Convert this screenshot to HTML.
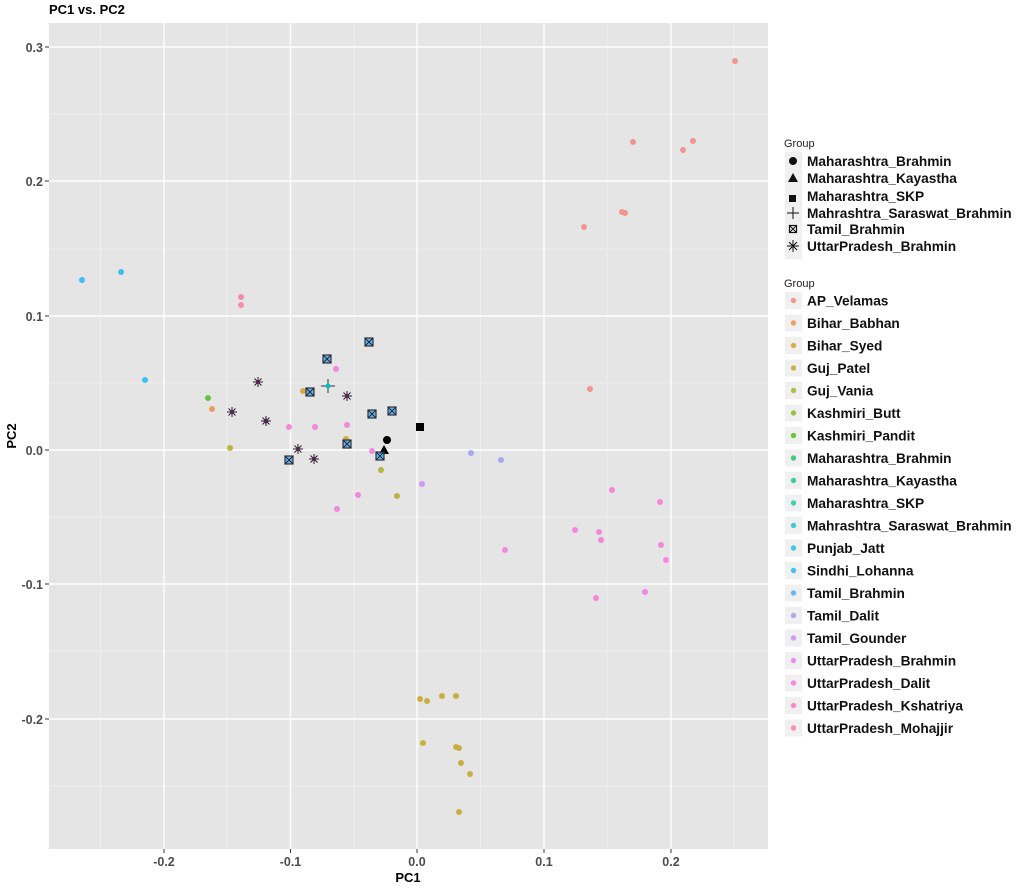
<!DOCTYPE html><html><head><meta charset="utf-8"><style>body{margin:0;background:#fff}svg{display:block;font-family:"Liberation Sans",Arial,sans-serif}</style></head><body>
<svg width="1024" height="888" viewBox="0 0 1024 888" xmlns="http://www.w3.org/2000/svg">
<rect x="0" y="0" width="1024" height="888" fill="#fff"/>
<text x="49" y="14" font-size="13" font-weight="bold">PC1 vs. PC2</text>
<rect x="49" y="23" width="719" height="826" fill="#e5e5e5"/>
<g stroke="#f2f2f2" stroke-width="0.7">
<line x1="100.6" y1="23" x2="100.6" y2="849"/><line x1="227" y1="23" x2="227" y2="849"/><line x1="354" y1="23" x2="354" y2="849"/><line x1="480.5" y1="23" x2="480.5" y2="849"/><line x1="607" y1="23" x2="607" y2="849"/><line x1="734" y1="23" x2="734" y2="849"/>
<line x1="49" y1="114" x2="768" y2="114"/><line x1="49" y1="249" x2="768" y2="249"/><line x1="49" y1="383" x2="768" y2="383"/><line x1="49" y1="517" x2="768" y2="517"/><line x1="49" y1="651" x2="768" y2="651"/><line x1="49" y1="786" x2="768" y2="786"/>
</g>
<g stroke="#fff" stroke-width="1.4">
<line x1="164" y1="23" x2="164" y2="849"/><line x1="290.5" y1="23" x2="290.5" y2="849"/><line x1="417" y1="23" x2="417" y2="849"/><line x1="544" y1="23" x2="544" y2="849"/><line x1="671" y1="23" x2="671" y2="849"/>
<line x1="49" y1="47" x2="768" y2="47"/><line x1="49" y1="181" x2="768" y2="181"/><line x1="49" y1="316" x2="768" y2="316"/><line x1="49" y1="450" x2="768" y2="450"/><line x1="49" y1="584" x2="768" y2="584"/><line x1="49" y1="719" x2="768" y2="719"/>
</g>
<g stroke="#333" stroke-width="1">
<line x1="164" y1="849" x2="164" y2="853"/><line x1="290.5" y1="849" x2="290.5" y2="853"/><line x1="417" y1="849" x2="417" y2="853"/><line x1="544" y1="849" x2="544" y2="853"/><line x1="671" y1="849" x2="671" y2="853"/>
<line x1="45" y1="47" x2="49" y2="47"/><line x1="45" y1="181" x2="49" y2="181"/><line x1="45" y1="316" x2="49" y2="316"/><line x1="45" y1="450" x2="49" y2="450"/><line x1="45" y1="584" x2="49" y2="584"/><line x1="45" y1="719" x2="49" y2="719"/>
</g>
<g font-size="12.5" font-weight="bold" fill="#4d4d4d" text-anchor="middle">
<text x="164" y="866">-0.2</text><text x="290.5" y="866">-0.1</text><text x="417" y="866">0.0</text><text x="544" y="866">0.1</text><text x="671" y="866">0.2</text>
</g>
<g font-size="12.5" font-weight="bold" fill="#4d4d4d" text-anchor="end">
<text x="43" y="52">0.3</text><text x="43" y="186">0.2</text><text x="43" y="321">0.1</text><text x="43" y="455">0.0</text><text x="43" y="589">-0.1</text><text x="43" y="724">-0.2</text>
</g>
<text x="408" y="882" font-size="13" font-weight="bold" text-anchor="middle">PC1</text>
<text x="16" y="436" font-size="13" font-weight="bold" text-anchor="middle" transform="rotate(-90 16 436)">PC2</text>
<g opacity="0.72">
<g fill="#F8766D"><circle cx="735" cy="61" r="3"/><circle cx="693" cy="141" r="3"/><circle cx="683" cy="150" r="3"/><circle cx="633" cy="142" r="3"/><circle cx="622" cy="212" r="3"/><circle cx="625" cy="213" r="3"/><circle cx="584" cy="227" r="3"/><circle cx="590" cy="389" r="3"/></g>
<g fill="#EA8331"><circle cx="212" cy="409" r="3"/></g>
<g fill="#D89000"><circle cx="303" cy="391" r="3"/><circle cx="346" cy="439" r="3"/></g>
<g fill="#C09B00"><circle cx="420" cy="699" r="3"/><circle cx="427" cy="701" r="3"/><circle cx="442" cy="696" r="3"/><circle cx="456" cy="696" r="3"/><circle cx="423" cy="743" r="3"/><circle cx="456" cy="747" r="3"/><circle cx="459" cy="748" r="3"/><circle cx="461" cy="763" r="3"/><circle cx="470" cy="774" r="3"/><circle cx="459" cy="812" r="3"/></g>
<g fill="#A3A500"><circle cx="230" cy="448" r="3"/><circle cx="381" cy="470" r="3"/><circle cx="397" cy="496" r="3"/></g>
<g fill="#39B600"><circle cx="208" cy="398" r="3"/></g>
<g fill="#00B0F6"><circle cx="82" cy="280" r="3"/><circle cx="121" cy="272" r="3"/><circle cx="145" cy="380" r="3"/></g>
<g fill="#9590FF"><circle cx="471" cy="453" r="3"/><circle cx="501" cy="460" r="3"/></g>
<g fill="#C77CFF"><circle cx="422" cy="484" r="3"/></g>
<g fill="#FA62DB"><circle cx="336" cy="369" r="3"/><circle cx="315" cy="427" r="3"/><circle cx="289" cy="427" r="3"/><circle cx="347" cy="425" r="3"/><circle cx="372" cy="451" r="3"/><circle cx="358" cy="495" r="3"/><circle cx="337" cy="509" r="3"/><circle cx="505" cy="550" r="3"/><circle cx="575" cy="530" r="3"/><circle cx="599" cy="532" r="3"/><circle cx="601" cy="540" r="3"/><circle cx="612" cy="490" r="3"/><circle cx="660" cy="502" r="3"/><circle cx="661" cy="545" r="3"/><circle cx="666" cy="560" r="3"/><circle cx="645" cy="592" r="3"/><circle cx="596" cy="598" r="3"/></g>
<g fill="#FF6C91"><circle cx="241" cy="297" r="3"/><circle cx="241" cy="305" r="3"/></g>
</g>
<circle cx="387" cy="440" r="4" fill="#000"/>
<polygon points="384,445 389,454 379,454" fill="#000"/>
<rect x="416" y="423" width="8" height="8" fill="#000"/>
<g stroke="#333" stroke-width="1"><line x1="321" y1="386" x2="335" y2="386"/><line x1="328" y1="379" x2="328" y2="393"/></g><circle cx="328" cy="386" r="2.5" fill="#00BFC4"/>
<g>
<g fill="#35A2FF" fill-opacity="0.75" stroke="#333" stroke-width="1.2">
<rect x="365" y="338" width="8" height="8"/><rect x="323" y="355" width="8" height="8"/><rect x="306" y="388" width="8" height="8"/><rect x="368" y="410" width="8" height="8"/><rect x="388" y="407" width="8" height="8"/><rect x="343" y="440" width="8" height="8"/><rect x="376" y="452" width="8" height="8"/><rect x="285" y="456" width="8" height="8"/>
</g>
<g stroke="#222" stroke-width="0.9">
<path d="M365 338l8 8M373 338l-8 8M323 355l8 8M331 355l-8 8M306 388l8 8M314 388l-8 8M368 410l8 8M376 410l-8 8M388 407l8 8M396 407l-8 8M343 440l8 8M351 440l-8 8M376 452l8 8M384 452l-8 8M285 456l8 8M293 456l-8 8"/>
</g></g>
<g stroke="#222" stroke-width="1">
<path d="M253 382h10M258 377v10M254.5 378.5l7 7M261.5 378.5l-7 7 M227 412h10M232 407v10M228.5 408.5l7 7M235.5 408.5l-7 7 M261 421h10M266 416v10M262.5 417.5l7 7M269.5 417.5l-7 7 M342 396h10M347 391v10M343.5 392.5l7 7M350.5 392.5l-7 7 M293 449h10M298 444v10M294.5 445.5l7 7M301.5 445.5l-7 7 M309 459h10M314 454v10M310.5 455.5l7 7M317.5 455.5l-7 7"/>
</g>
<g fill="#5a1f5e"><circle cx="258" cy="382" r="2"/><circle cx="232" cy="412" r="2"/><circle cx="266" cy="421" r="2.4"/><circle cx="347" cy="396" r="2"/><circle cx="298" cy="449" r="2"/><circle cx="314" cy="459" r="2"/></g>
<text x="784" y="147" font-size="11" fill="#222">Group</text>
<g fill="#f0f0f0"><rect x="785" y="152" width="17" height="107"/></g>
<g font-size="13.7" font-weight="bold" fill="#111">
<circle cx="793" cy="161" r="4"/><text x="807" y="166">Maharashtra_Brahmin</text>
<polygon points="793,173 798,182 788,182"/><text x="807" y="183">Maharashtra_Kayastha</text>
<rect x="789" y="195" width="7" height="7"/><text x="807" y="201">Maharashtra_SKP</text>
<path d="M787 213h12M793 207v12" stroke="#111" stroke-width="1"/><text x="807" y="218">Mahrashtra_Saraswat_Brahmin</text>
<rect x="789.5" y="225.5" width="7" height="7" fill="none" stroke="#111" stroke-width="1.2"/><path d="M789.5 225.5l7 7M796.5 225.5l-7 7" stroke="#111" stroke-width="1"/><text x="807" y="234">Tamil_Brahmin</text>
<path d="M787 246h12M793 240v12M789 242l8 8M797 242l-8 8" stroke="#111" stroke-width="1"/><text x="807" y="251">UttarPradesh_Brahmin</text>
</g>
<text x="784" y="287" font-size="11" fill="#222">Group</text>
<g font-size="13.7" font-weight="bold" fill="#111">
<g fill="#f0f0f0">
<rect x="785" y="292" width="17" height="17"/><rect x="785" y="314.5" width="17" height="17"/><rect x="785" y="337" width="17" height="17"/><rect x="785" y="359.5" width="17" height="17"/><rect x="785" y="382" width="17" height="17"/><rect x="785" y="404.5" width="17" height="17"/><rect x="785" y="427" width="17" height="17"/><rect x="785" y="449.5" width="17" height="17"/><rect x="785" y="472" width="17" height="17"/><rect x="785" y="494.5" width="17" height="17"/><rect x="785" y="517" width="17" height="17"/><rect x="785" y="539.5" width="17" height="17"/><rect x="785" y="562" width="17" height="17"/><rect x="785" y="584.5" width="17" height="17"/><rect x="785" y="607" width="17" height="17"/><rect x="785" y="629.5" width="17" height="17"/><rect x="785" y="652" width="17" height="17"/><rect x="785" y="674.5" width="17" height="17"/><rect x="785" y="697" width="17" height="17"/><rect x="785" y="719.5" width="17" height="17"/>
</g>
<g opacity="0.72">
<circle cx="793.5" cy="300.5" r="2.7" fill="#F8766D"/><circle cx="793.5" cy="323" r="2.7" fill="#EA8331"/><circle cx="793.5" cy="345.5" r="2.7" fill="#D89000"/><circle cx="793.5" cy="368" r="2.7" fill="#C09B00"/><circle cx="793.5" cy="390.5" r="2.7" fill="#A3A500"/><circle cx="793.5" cy="413" r="2.7" fill="#7CAE00"/><circle cx="793.5" cy="435.5" r="2.7" fill="#39B600"/><circle cx="793.5" cy="458" r="2.7" fill="#00BB4E"/><circle cx="793.5" cy="480.5" r="2.7" fill="#00BF7D"/><circle cx="793.5" cy="503" r="2.7" fill="#00C1A3"/><circle cx="793.5" cy="525.5" r="2.7" fill="#00BFC4"/><circle cx="793.5" cy="548" r="2.7" fill="#00BAE0"/><circle cx="793.5" cy="570.5" r="2.7" fill="#00B0F6"/><circle cx="793.5" cy="593" r="2.7" fill="#35A2FF"/><circle cx="793.5" cy="615.5" r="2.7" fill="#9590FF"/><circle cx="793.5" cy="638" r="2.7" fill="#C77CFF"/><circle cx="793.5" cy="660.5" r="2.7" fill="#E76BF3"/><circle cx="793.5" cy="683" r="2.7" fill="#FA62DB"/><circle cx="793.5" cy="705.5" r="2.7" fill="#FF62BC"/><circle cx="793.5" cy="728" r="2.7" fill="#FF6C91"/>
</g>
<text x="807" y="305.5">AP_Velamas</text><text x="807" y="328">Bihar_Babhan</text><text x="807" y="350.5">Bihar_Syed</text><text x="807" y="373">Guj_Patel</text><text x="807" y="395.5">Guj_Vania</text><text x="807" y="418">Kashmiri_Butt</text><text x="807" y="440.5">Kashmiri_Pandit</text><text x="807" y="463">Maharashtra_Brahmin</text><text x="807" y="485.5">Maharashtra_Kayastha</text><text x="807" y="508">Maharashtra_SKP</text><text x="807" y="530.5">Mahrashtra_Saraswat_Brahmin</text><text x="807" y="553">Punjab_Jatt</text><text x="807" y="575.5">Sindhi_Lohanna</text><text x="807" y="598">Tamil_Brahmin</text><text x="807" y="620.5">Tamil_Dalit</text><text x="807" y="643">Tamil_Gounder</text><text x="807" y="665.5">UttarPradesh_Brahmin</text><text x="807" y="688">UttarPradesh_Dalit</text><text x="807" y="710.5">UttarPradesh_Kshatriya</text><text x="807" y="733">UttarPradesh_Mohajjir</text>
</g>
</svg>
</body></html>
